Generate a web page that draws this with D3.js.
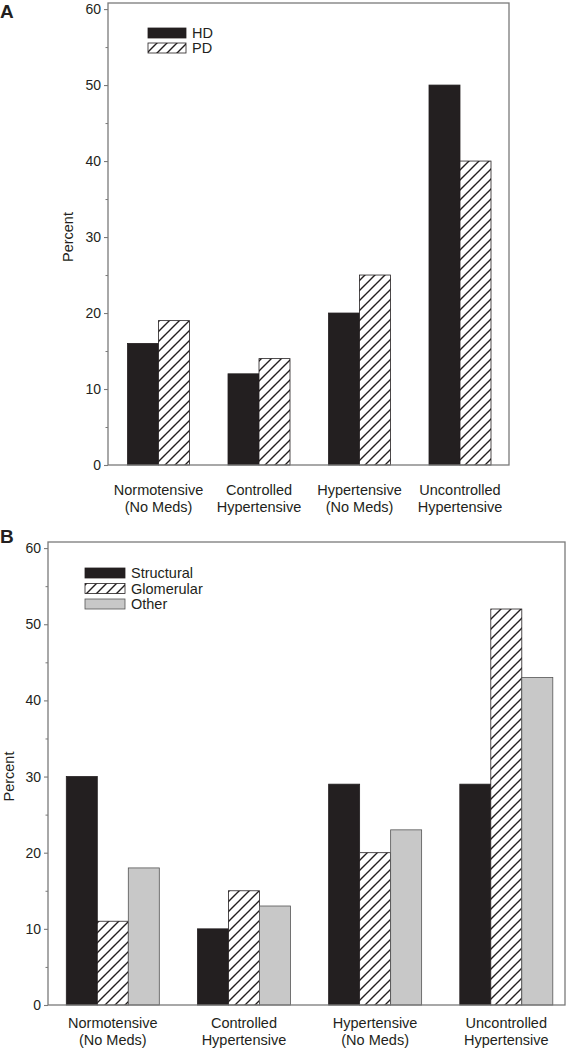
<!DOCTYPE html>
<html>
<head>
<meta charset="utf-8">
<script src="https://cdn.jsdelivr.net/npm/d3@7"></script>
<style>
  body { margin: 0; background: #fff; }
  svg { display: block; font-family: "Liberation Sans", Arial, sans-serif; }
</style>
</head>
<body>
<svg id="chart" width="571" height="1050"></svg>
<script>
// ---------- data ----------
const categoriesA = [["Normotensive", "(No Meds)"], ["Controlled", "Hypertensive"], ["Hypertensive", "(No Meds)"], ["Uncontrolled", "Hypertensive"]];
const categoriesB = categoriesA;
const seriesA = ["HD", "PD"];
const valuesHD = [16, 12, 20, 50];
const valuesPD = [19, 14, 25, 40];
const seriesB = ["Structural", "Glomerular", "Other"];
const valuesStructural = [30, 10, 29, 29];
const valuesGlomerular = [11, 15, 20, 52];
const valuesOther = [18, 13, 23, 43];
const majorTicks = [0, 10, 20, 30, 40, 50, 60];
const minorTicks = [5, 15, 25, 35, 45, 55];
const yLabel = "Percent";

// ---------- setup ----------
const svg = d3.select("#chart");
const defs = svg.append("defs");
const pat = defs.append("pattern")
  .attr("id", "hatch").attr("patternUnits", "userSpaceOnUse")
  .attr("width", 10).attr("height", 10);
pat.append("rect").attr("width", 10).attr("height", 10).attr("fill", "#fff");
pat.append("path").attr("d", "M-2,12 L12,-2 M-7,7 L7,-7 M3,17 L17,3")
  .attr("stroke", "#231f20").attr("stroke-width", 1.4);

const fills = {
  solid: "#231f20",
  hatch: "url(#hatch)",
  gray: "#c8c8c8"
};

function panel(opts) {
  const g = svg.append("g");
  const y = d3.scaleLinear().domain([0, 60.8]).range([opts.bottom, opts.top]);
  const x = d3.scalePoint().domain(d3.range(opts.cats.length)).range(opts.xRange);
  const bw = 31;
  const n = opts.series.length;

  // bars
  opts.series.forEach((s, si) => {
    g.selectAll(null).data(s.values).enter().append("rect")
      .attr("x", (d, i) => x(i) - n * bw / 2 + si * bw)
      .attr("width", bw)
      .attr("y", d => y(d))
      .attr("height", d => y(0) - y(d))
      .attr("fill", fills[s.style])
      .attr("stroke", s.style === "gray" ? "#555" : "#231f20")
      .attr("stroke-width", 0.8);
  });

  // frame
  g.append("rect")
    .attr("x", opts.left).attr("y", opts.top)
    .attr("width", opts.right - opts.left).attr("height", opts.bottom - opts.top)
    .attr("fill", "none").attr("stroke", "#7a7a7a").attr("stroke-width", 1.3);

  // y axis major
  const ax = g.append("g").attr("transform", `translate(${opts.left},0)`)
    .call(d3.axisLeft(y).tickValues(majorTicks).tickSize(4).tickPadding(3).tickFormat(d3.format("d")));
  ax.select(".domain").remove();
  ax.selectAll("line").attr("stroke", "#7a7a7a").attr("stroke-width", 1.1);
  ax.selectAll("text").attr("font-size", 14).attr("fill", "#231f20").attr("font-family", "Liberation Sans, Arial, sans-serif");
  // minor
  const ax2 = g.append("g").attr("transform", `translate(${opts.left},0)`)
    .call(d3.axisLeft(y).tickValues(minorTicks).tickSize(2.5).tickFormat(""));
  ax2.select(".domain").remove();
  ax2.selectAll("line").attr("stroke", "#7a7a7a").attr("stroke-width", 1);

  // y label
  g.append("text")
    .attr("transform", `translate(${opts.yLabelX},${(y(0) + y(60)) / 2}) rotate(-90)`)
    .attr("text-anchor", "middle").attr("font-size", 14.5).attr("fill", "#231f20")
    .text(yLabel);

  // x labels
  opts.cats.forEach((c, i) => {
    const t = g.append("text").attr("text-anchor", "middle").attr("font-size", 14.5).attr("fill", "#231f20");
    c.forEach((line, li) => {
      t.append("tspan").attr("x", x(i)).attr("y", opts.labelY + li * 17).text(line);
    });
  });

  // legend
  opts.series.forEach((s, si) => {
    const ly = opts.legend.y + si * opts.legend.step;
    g.append("rect").attr("x", opts.legend.x).attr("y", ly)
      .attr("width", opts.legend.w).attr("height", 10)
      .attr("fill", fills[s.style])
      .attr("stroke", s.style === "gray" ? "#555" : "#231f20").attr("stroke-width", 0.8);
    g.append("text").attr("x", opts.legend.x + opts.legend.w + 6).attr("y", ly + 5)
      .attr("dy", "0.36em").attr("font-size", 14.5).attr("fill", "#231f20").text(s.name);
  });

  // panel letter
  g.append("text").attr("x", 0).attr("y", opts.letterY)
    .attr("font-size", 19).attr("font-weight", "bold").attr("fill", "#231f20").text(opts.letter);
}

panel({
  letter: "A", letterY: 18,
  left: 108, right: 509, top: 3, bottom: 465,
  xRange: [158.5, 460],
  cats: categoriesA,
  series: [
    { name: seriesA[0], values: valuesHD, style: "solid" },
    { name: seriesA[1], values: valuesPD, style: "hatch" }
  ],
  yLabelX: 73,
  labelY: 495,
  legend: { x: 148, y: 28, w: 38, step: 15 }
});

panel({
  letter: "B", letterY: 543,
  left: 48, right: 565, top: 542, bottom: 1005,
  xRange: [112.8, 506.3],
  cats: categoriesB,
  series: [
    { name: seriesB[0], values: valuesStructural, style: "solid" },
    { name: seriesB[1], values: valuesGlomerular, style: "hatch" },
    { name: seriesB[2], values: valuesOther, style: "gray" }
  ],
  yLabelX: 14,
  labelY: 1028,
  legend: { x: 85, y: 568, w: 40, step: 15.5 }
});
</script>
</body>
</html>
